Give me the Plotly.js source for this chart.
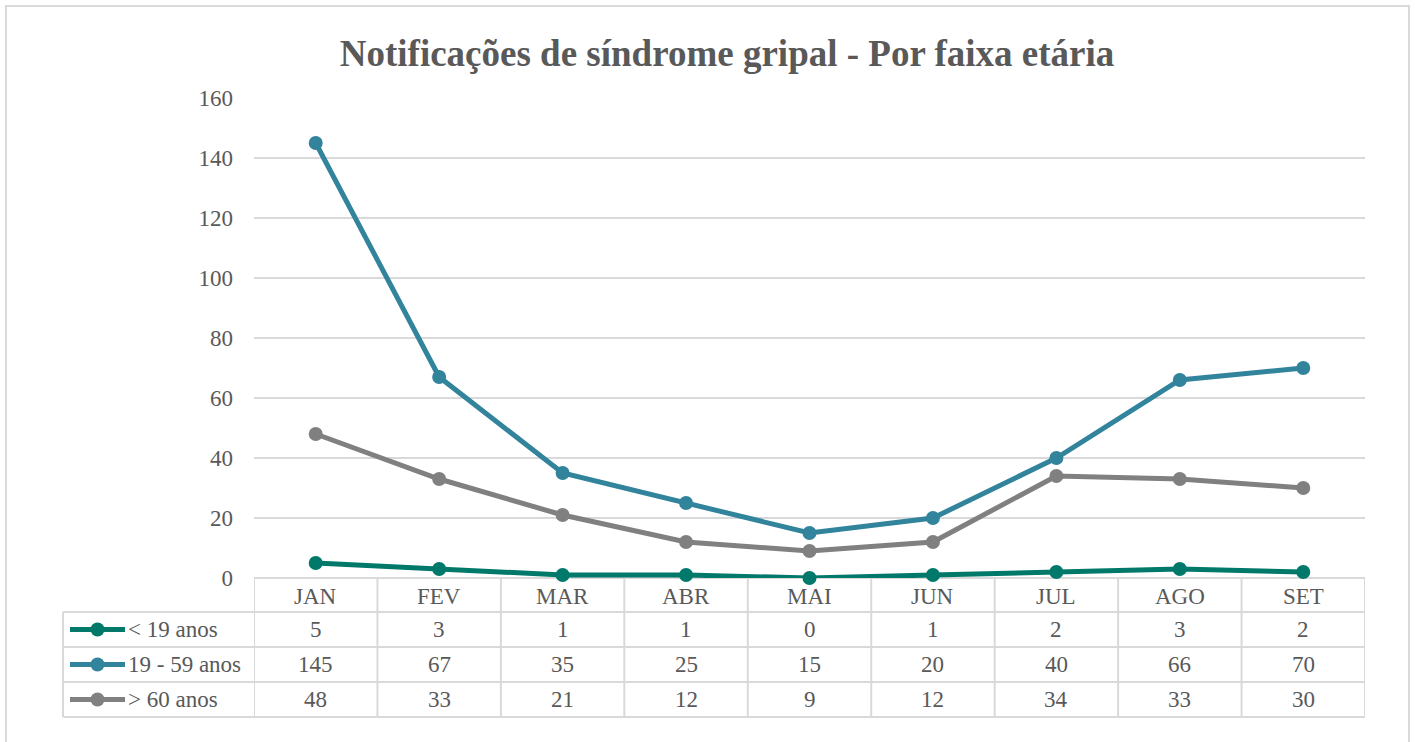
<!DOCTYPE html>
<html>
<head>
<meta charset="utf-8">
<script src="https://cdn.plot.ly/plotly-3.0.1.min.js"></script>
<style>
  html, body { margin: 0; padding: 0; background: #fff; }
  #chart { width: 1415px; height: 742px; }
</style>
</head>
<body>
<div id="chart"></div>
<script>
// Notificações de síndrome gripal — line chart with an Excel-style data table underneath.

const months = ['JAN','FEV','MAR','ABR','MAI','JUN','JUL','AGO','SET'];
const seriesNames = ['< 19 anos', '19 - 59 anos', '> 60 anos'];
const under19 = [5, 3, 1, 1, 0, 1, 2, 3, 2];
const adults  = [145, 67, 35, 25, 15, 20, 40, 66, 70];
const over60  = [48, 33, 21, 12, 9, 12, 34, 33, 30];
const yTicks  = [0, 20, 40, 60, 80, 100, 120, 140, 160];

const COLOURS = ['#00796b', '#31849b', '#808080'];
const TEXT = '#595959';
const GRID = '#d9d9d9';
const FONT = '"Liberation Serif", "Times New Roman", serif';

// plot area in page pixels
const W = 1415, H = 742;
const L = 254, R = 1365, T = 98, B = 578;
const px = X => (X - L) / (R - L);      // page px -> paper x
const py = Y => (B - Y) / (B - T);      // page px -> paper y

const seriesValues = [under19, adults, over60];

const traces = seriesValues.map((vals, i) => ({
    x: months, y: vals,
    type: 'scatter', mode: 'lines+markers',
    name: seriesNames[i],
    line: { color: COLOURS[i], width: 5 },
    marker: { color: COLOURS[i], size: 14 },
    cliponaxis: false,
    hoverinfo: 'skip',
}));

// table geometry
const rowLines = [612, 647, 682, 717];
const rowCentres = [629.5, 664.5, 699.5];
const headerCentre = 596;
const legendLeft = 63;

const line = (x0, y0, x1, y1, xref) => ({
    type: 'line', xref: xref || 'paper', yref: 'paper',
    x0, x1, y0, y1, line: { color: GRID, width: 2 }, layer: 'below',
});

const shapes = [];
// outer frame
shapes.push({ type: 'rect', xref: 'paper', yref: 'paper',
    x0: px(6), x1: px(1409), y0: py(6), y1: py(760),
    line: { color: GRID, width: 2 }, layer: 'below' });
// horizontal table lines
shapes.push(line(0, py(B), 1, py(B)));
rowLines.forEach(Y => shapes.push(line(px(legendLeft), py(Y), 1, py(Y))));
// vertical lines
shapes.push(line(px(legendLeft), py(612), px(legendLeft), py(717)));
for (let k = 0; k <= months.length; k++) {
    shapes.push(line(k - 0.5, py(B), k - 0.5, py(717), 'x'));
}
// legend keys inside the table
rowCentres.forEach((Y, i) => {
    shapes.push({ type: 'line', xref: 'paper', yref: 'paper',
        x0: px(70), x1: px(125), y0: py(Y), y1: py(Y),
        line: { color: COLOURS[i], width: 5 } });
    shapes.push({ type: 'circle', xref: 'paper', yref: 'paper',
        x0: px(90.5), x1: px(104.5), y0: py(Y - 7), y1: py(Y + 7),
        fillcolor: COLOURS[i], line: { color: COLOURS[i], width: 0 } });
});

const annotations = [];
const cellFont = { family: FONT, size: 23, color: TEXT };
months.forEach(m => annotations.push({
    x: m, xref: 'x', xanchor: 'center',
    y: py(headerCentre), yref: 'paper', yanchor: 'middle',
    text: m, showarrow: false, font: cellFont,
}));
seriesValues.forEach((vals, i) => {
    vals.forEach((v, j) => annotations.push({
        x: months[j], xref: 'x', xanchor: 'center',
        y: py(rowCentres[i]), yref: 'paper', yanchor: 'middle',
        text: String(v), showarrow: false, font: cellFont,
    }));
    annotations.push({
        x: px(126), xref: 'paper', xanchor: 'left',
        y: py(rowCentres[i]), yref: 'paper', yanchor: 'middle',
        text: seriesNames[i].replace('<', '&lt;').replace('>', '&gt;'),
        showarrow: false, font: cellFont,
    });
});

const layout = {
    width: W, height: H,
    paper_bgcolor: '#fff', plot_bgcolor: '#fff',
    font: { family: FONT, color: TEXT, size: 23 },
    margin: { l: L, r: W - R, t: T, b: H - B, pad: 0 },
    title: {
        text: '<b>Notificações de síndrome gripal - Por faixa etária</b>',
        x: 727 / W, xref: 'container', xanchor: 'center',
        y: 1 - 53 / H, yref: 'container', yanchor: 'middle',
        font: { family: FONT, size: 37, color: TEXT },
    },
    showlegend: false,
    xaxis: {
        type: 'category', range: [-0.5, months.length - 0.5],
        showticklabels: false, showgrid: false, zeroline: false, showline: false,
        fixedrange: true,
    },
    yaxis: {
        range: [0, 160], tickvals: yTicks,
        showgrid: true, gridcolor: GRID, gridwidth: 2,
        zeroline: false, showline: false,
        ticks: '', ticklabelstandoff: 20,
        tickfont: { family: FONT, size: 23, color: TEXT },
        fixedrange: true,
    },
    shapes,
    annotations,
};

Plotly.newPlot('chart', traces, layout, { displayModeBar: false, staticPlot: true });
</script>
</body>
</html>
